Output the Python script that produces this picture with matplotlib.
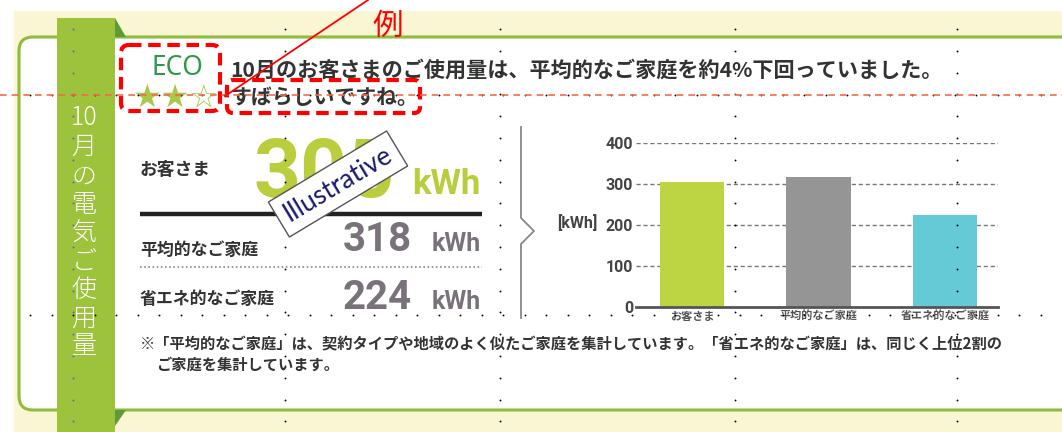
import matplotlib
matplotlib.use("Agg")
import matplotlib.pyplot as plt
from matplotlib.patches import Rectangle, FancyBboxPatch, Polygon
import numpy as np

plt.rcParams['font.family'] = ['Noto Sans CJK JP', 'DejaVu Sans']

# data
categories = ["お客さま", "平均的なご家庭", "省エネ的なご家庭"]
values = [305, 318, 224]
bar_colors = ["#bdd443", "#959595", "#66c9d6"]
yticks = [0, 100, 200, 300, 400]
headline = "10月のお客さまのご使用量は、平均的なご家庭を約4%下回っていました。"
subline = "すばらしいですね。"
side_title = ["10", "月", "の", "電", "気", "ご", "使", "用", "量"]
note1 = "※「平均的なご家庭」は、契約タイプや地域のよく似たご家庭を集計しています。「省エネ的なご家庭」は、同じく上位2割の"
note2 = "ご家庭を集計しています。"

W, H = 1062, 432
fig = plt.figure(figsize=(W / 100, H / 100), dpi=100)
fig.patch.set_facecolor("white")

# background layer in pixel coords
bg = fig.add_axes([0, 0, 1, 1], zorder=0)
bg.set_xlim(0, W)
bg.set_ylim(H, 0)
bg.axis("off")

bg.add_patch(Rectangle((14, 11), W - 14, H - 11, fc="#faf5d3", ec="none"))
bg.add_patch(FancyBboxPatch((19, 37), 1070, 373, boxstyle="round,pad=0,rounding_size=14",
                            fc="white", ec="#8fbc3c", lw=2.2))
# ribbon
bg.add_patch(Rectangle((57, 18), 58, H - 18, fc="#9dc23b", ec="none"))
bg.add_patch(Polygon([(115, 18), (115, 37), (126, 37)], fc="#5f9a36", ec="none"))
bg.add_patch(Polygon([(115, 410), (126, 410), (115, 426)], fc="#5f9a36", ec="none"))
ys = [118, 147, 176, 205, 233, 262, 290, 318, 346]
for ch, y in zip(side_title, ys):
    bg.text(84, y, ch, color="white", fontsize=18, ha="center", va="center", fontweight="light")

# eco badge
bg.text(177, 68, "ECO", color="#2e9a4a", fontsize=19, ha="center", va="center",
        family="Noto Sans", fontweight="medium")
bg.text(176, 98, "★★☆", color="#a9c84a", fontsize=23, ha="center", va="center",
        family="DejaVu Sans")

bg.text(230, 70, headline, color="#333333", fontsize=15.2, ha="left", va="center",
        fontweight="bold")
bg.text(230, 97, subline, color="#333333", fontsize=15, ha="left", va="center",
        fontweight="bold")

# left panel
lab = dict(color="#333333", ha="left", va="center", fontweight="bold")
bg.text(140, 170, "お客さま", fontsize=12.8, **lab)
bg.text(140, 250, "平均的なご家庭", fontsize=12.2, **lab)
bg.text(140, 299, "省エネ的なご家庭", fontsize=12.2, **lab)
bg.text(395, 175, str(values[0]), color="#b9cd3d", fontsize=59, ha="right", va="center",
        family="Roboto", fontweight="bold")
bg.text(481, 184, "kWh", color="#b9cd3d", fontsize=25, ha="right", va="center",
        family="Roboto", fontweight="bold")
for v, y in zip(values[1:], [240, 298]):
    bg.text(412, y, str(v), color="#7a727a", fontsize=29, ha="right", va="center",
            family="Roboto", fontweight="bold")
    bg.text(481, y + 4, "kWh", color="#7a727a", fontsize=18, ha="right", va="center",
            family="Roboto", fontweight="bold")
bg.plot([140, 482], [214, 214], color="#222222", lw=3.2, solid_capstyle="butt")
bg.plot([140, 482], [267, 267], color="#888888", lw=1.2, ls=(0, (1, 1.5)))

# separator bracket
bg.plot([521, 521, 534, 521, 521], [127, 218, 231, 244, 318], color="#888888", lw=1.3)

bg.text(577, 223, "[kWh]", color="#444444", fontsize=11.5, ha="center", va="center",
        family="Roboto", fontweight="bold")

bg.text(140, 343, note1, color="#333333", fontsize=11, ha="left", va="center",
        fontweight="bold")
bg.text(156, 365, note2, color="#333333", fontsize=11, ha="left", va="center",
        fontweight="bold")

# bar chart
x0, x1, ytop, ybot = 636, 998, 143, 307
ax = fig.add_axes([x0 / W, (H - ybot) / H, (x1 - x0) / W, (ybot - ytop) / H], zorder=1)
ax.patch.set_alpha(0)
pos = np.arange(len(categories))
ax.bar(pos, values, width=0.51, color=bar_colors, zorder=2)
ax.set_ylim(0, 400)
ax.set_xlim(-0.443, 2.42)
ax.set_yticks(yticks)
ax.set_yticklabels([str(t) for t in yticks], family="Roboto", fontweight="bold",
                   fontsize=11.5, color="#444444")
ax.set_xticks(pos)
ax.set_xticklabels(categories, fontsize=8, color="#555555", fontweight="bold")
ax.tick_params(axis="both", length=0, pad=2)
for t in yticks[1:]:
    ax.axhline(t, color="#777777", lw=1, ls=(0, (3, 2)), zorder=1)
for s in ["top", "right", "left"]:
    ax.spines[s].set_visible(False)
ax.spines["bottom"].set_color("#555555")
ax.spines["bottom"].set_linewidth(2)
ax.spines["bottom"].set_zorder(3)

# overlay layer
fg = fig.add_axes([0, 0, 1, 1], zorder=2)
fg.patch.set_alpha(0)
fg.set_xlim(0, W)
fg.set_ylim(H, 0)
fg.axis("off")

fg.plot([0, W], [95, 95], color="#f26b4a", lw=1.2, ls=(0, (4, 3)))
col_x = [73, 285, 500, 735, 957]
col_y = np.arange(29, H, 21.8)
for cx in col_x:
    c = "#6a5fc0" if cx == 73 else "black"
    fg.scatter(np.full(len(col_y), cx), col_y, s=1.8, color=c, lw=0)
row_x = np.arange(30, W, 21.5)
for ry in [95, 315]:
    fg.scatter(row_x, np.full(len(row_x), ry), s=1.8, color="black", lw=0)

fg.add_patch(FancyBboxPatch((121, 45), 99, 66, boxstyle="round,pad=0,rounding_size=8",
                            fc="none", ec="#ff0000", lw=3, ls=(0, (3, 1.6))))
fg.add_patch(FancyBboxPatch((227, 80), 193, 33, boxstyle="round,pad=0,rounding_size=6",
                            fc="none", ec="#ff0000", lw=3, ls=(0, (3, 1.6))))
fg.plot([225, 368], [96, 0], color="#ff0000", lw=1.3)
fg.text(388, 26, "例", color="#ff0000", fontsize=22, ha="center", va="center")

fg.text(338, 184, "Illustrative", color="#1a1a70", fontsize=19, ha="center", va="center",
        rotation=31, family="Lato", rotation_mode="anchor",
        bbox=dict(boxstyle="square,pad=0.3", fc="white", ec="#555555", lw=1))

fig.savefig("out.png", dpi=100)
